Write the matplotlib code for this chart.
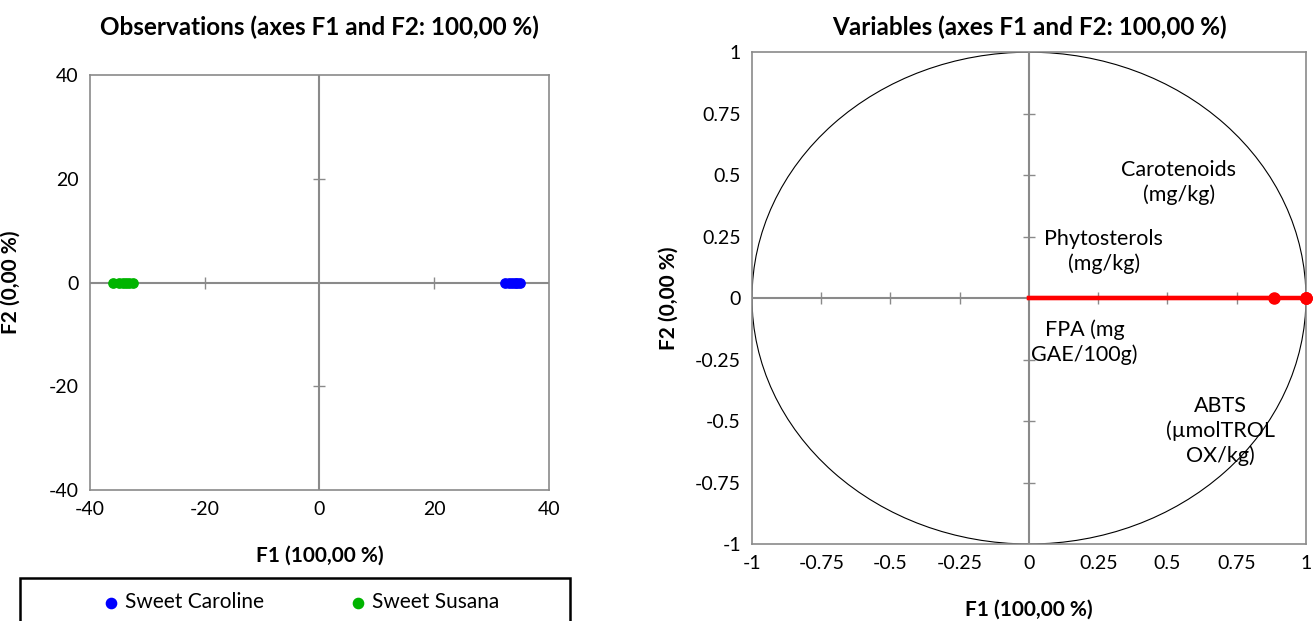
import matplotlib.pyplot as plt
import numpy as np
from matplotlib.patches import Circle, Rectangle

plt.rcParams['font.family'] = ['Lato', 'DejaVu Sans']
plt.rcParams['axes.unicode_minus'] = False

# Observaciones (F1, F2)
caroline_f1 = [32.4, 33.0, 33.5, 34.0, 34.5, 35.0]
caroline_f2 = [0, 0, 0, 0, 0, 0]
susana_f1 = [-36.0, -35.0, -34.3, -33.8, -33.2, -32.5]
susana_f2 = [0, 0, 0, 0, 0, 0]

# Variables (correlaciones con F1, F2)
variables = ["Carotenoids\n(mg/kg)", "Phytosterols\n(mg/kg)", "FPA (mg\nGAE/100g)", "ABTS\n(µmolTROL\nOX/kg)"]
var_f1 = [1.0, 0.885, 1.0, 1.0]
var_f2 = [0.0, 0.0, 0.0, 0.0]
etiqueta_x = [0.54, 0.27, 0.20, 0.69]
etiqueta_y = [0.47, 0.19, -0.18, -0.54]

obs_ticks = [-40, -20, 0, 20, 40]
var_ticks = [-1, -0.75, -0.5, -0.25, 0, 0.25, 0.5, 0.75, 1]
var_ticklabels = ["-1", "-0.75", "-0.5", "-0.25", "0", "0.25", "0.5", "0.75", "1"]

gris = '#8a8a8a'

fig = plt.figure(figsize=(13.14, 6.21), dpi=100)

# Panel izquierdo: observaciones
ax = fig.add_axes([0.0685, 0.211, 0.3493, 0.668])
ax.set_xlim(-40, 40)
ax.set_ylim(-40, 40)
ax.axhline(0, color=gris, lw=1.5, zorder=1)
ax.axvline(0, color=gris, lw=1.5, zorder=1)
marcas = [t for t in obs_ticks if t not in (-40, 0, 40)]
ax.plot(marcas, [0] * len(marcas), ls='none', marker='|', ms=9, color=gris, mew=1)
ax.plot([0] * len(marcas), marcas, ls='none', marker='_', ms=9, color=gris, mew=1)
ax.scatter(caroline_f1, caroline_f2, s=45, color='#0000ff', zorder=3, label='Sweet Caroline')
ax.scatter(susana_f1, susana_f2, s=45, color='#00b400', zorder=3, label='Sweet Susana')
ax.set_xticks(obs_ticks)
ax.set_yticks(obs_ticks)
ax.tick_params(length=0, labelsize=14, pad=8)
for s in ax.spines.values():
    s.set_color(gris)
    s.set_linewidth(1.2)
ax.set_title("Observations (axes F1 and F2: 100,00 %)", fontsize=17.5, fontweight='bold', pad=29)
ax.set_xlabel("F1 (100,00 %)", fontsize=15, fontweight='bold', labelpad=20)
ax.set_ylabel("F2 (0,00 %)", fontsize=15, fontweight='bold', labelpad=20)

# Leyenda con marco propio (cortado por el borde inferior)
fig.patches.append(Rectangle((20 / 1314, -0.05), 550 / 1314, 0.05 + 43 / 621, transform=fig.transFigure,
                             fill=False, edgecolor='black', lw=1.8, clip_on=False))
leg = fig.legend(loc='center', bbox_to_anchor=(301 / 1314, 1 - 602 / 621), ncol=2, fontsize=15,
                 frameon=False, handlelength=0.8, handletextpad=0.3, markerscale=1.1,
                 columnspacing=4.1)

# Panel derecho: variables
ax1 = fig.add_axes([0.5723, 0.124, 0.4216, 0.792])
ax1.set_xlim(-1, 1)
ax1.set_ylim(-1, 1)
ax1.add_patch(Circle((0, 0), 1, fill=False, color='black', lw=0.8))
ax1.axhline(0, color=gris, lw=1.5, zorder=1)
ax1.axvline(0, color=gris, lw=1.5, zorder=1)
marcas1 = [t for t in var_ticks if t not in (-1, 0, 1)]
ax1.plot(marcas1, [0] * len(marcas1), ls='none', marker='|', ms=9, color=gris, mew=1)
ax1.plot([0] * len(marcas1), marcas1, ls='none', marker='_', ms=9, color=gris, mew=1)
for x, y in zip(var_f1, var_f2):
    ax1.plot([0, x], [0, y], color='#ff0000', lw=3, zorder=3)
    ax1.plot(x, y, 'o', color='#ff0000', ms=8, zorder=4, clip_on=False)
for nombre, x, y in zip(variables, etiqueta_x, etiqueta_y):
    ax1.text(x, y, nombre, ha='center', va='center', fontsize=15.5, linespacing=1.25)
ax1.set_xticks(var_ticks)
ax1.set_xticklabels(var_ticklabels)
ax1.set_yticks(var_ticks)
ax1.set_yticklabels(var_ticklabels)
ax1.tick_params(length=0, labelsize=14, pad=8)
for s in ax1.spines.values():
    s.set_color(gris)
    s.set_linewidth(1.2)
ax1.set_title("Variables (axes F1 and F2: 100,00 %)", fontsize=17.5, fontweight='bold', pad=12)
ax1.set_xlabel("F1 (100,00 %)", fontsize=15, fontweight='bold', labelpad=20)
ax1.set_ylabel("F2 (0,00 %)", fontsize=15, fontweight='bold', labelpad=12)

plt.savefig('out.png', dpi=100)
